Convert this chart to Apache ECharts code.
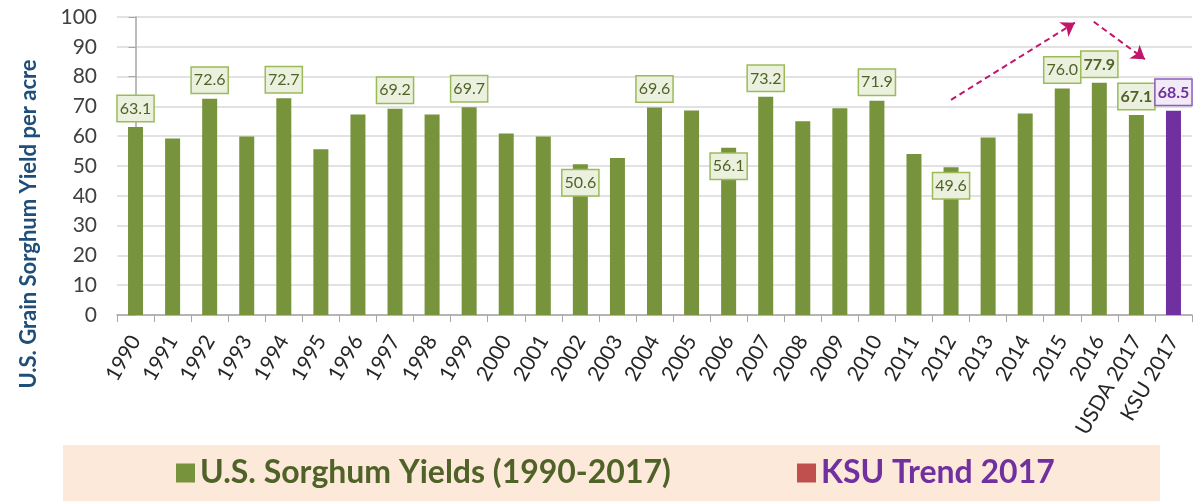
<!DOCTYPE html>
<html>
<head>
<meta charset="utf-8">
<script src="https://cdn.jsdelivr.net/npm/echarts@6/dist/echarts.min.js"></script>
<style>
  html, body { margin: 0; padding: 0; background: #fff; }
  #chart { width: 1199px; height: 501px; }
</style>
</head>
<body>
<div id="chart"></div>
<script>
// data
const categories = ['1990', '1991', '1992', '1993', '1994', '1995', '1996', '1997', '1998', '1999',
  '2000', '2001', '2002', '2003', '2004', '2005', '2006', '2007', '2008', '2009',
  '2010', '2011', '2012', '2013', '2014', '2015', '2016', 'USDA 2017', 'KSU 2017'];
const usYields = [63.1, 59.2, 72.6, 59.9, 72.7, 55.6, 67.3, 69.2, 67.3, 69.7,
  60.9, 59.9, 50.6, 52.7, 69.6, 68.6, 56.1, 73.2, 65.0, 69.4,
  71.9, 54.0, 49.6, 59.6, 67.6, 76.0, 77.9, 67.1, null];
const ksuTrend = [null, null, null, null, null, null, null, null, null, null,
  null, null, null, null, null, null, null, null, null, null,
  null, null, null, null, null, null, null, null, 68.5];
const labelledYears = ['1990', '1992', '1994', '1997', '1999', '2002', '2004', '2006',
  '2007', '2010', '2012', '2015', '2016', 'USDA 2017'];
const insideLabelYears = ['2002', '2006', '2012'];
const boldLabelYears = ['2016', 'USDA 2017'];
// trend arrows, [category index, yield]
const arrowUp = [[22.0, 72.2], [25.34, 98.1]];
const arrowDown = [[25.85, 98.4], [27.23, 85.8]];

const GREEN = '#77933c';
const PURPLE = '#7030a0';
const FONT = 'Lato';

const greenLabel = {
  show: true,
  distance: 6,
  formatter: p => p.value.toFixed(1),
  fontFamily: FONT,
  fontSize: 16,
  lineHeight: 19,
  color: '#4f6228',
  backgroundColor: '#ebf1de',
  borderColor: '#9bbb59',
  borderWidth: 1.5,
  padding: [3, 2, 3, 2]
};

const usData = usYields.map((v, i) => {
  const cat = categories[i];
  if (v == null) return '-';
  if (labelledYears.indexOf(cat) < 0) return v;
  return {
    value: v,
    label: Object.assign({}, greenLabel, {
      position: insideLabelYears.indexOf(cat) >= 0 ? 'insideTop' : 'top',
      fontWeight: boldLabelYears.indexOf(cat) >= 0 ? 'bold' : 'normal'
    })
  };
});

const ksuData = ksuTrend.map(v => v == null ? '-' : {
  value: v,
  label: Object.assign({}, greenLabel, {
    position: 'top',
    fontWeight: 'bold',
    color: PURPLE,
    backgroundColor: '#f2ebf7',
    borderColor: '#8d5bbd'
  })
});

const arrowLine = pts => ({
  silent: true,
  symbol: ['none', 'arrow'],
  symbolSize: 13,
  label: { show: false },
  lineStyle: { color: '#c0176a', type: [6, 4], width: 2 },
  data: [[{ coord: pts[0] }, { coord: pts[1] }]]
});

const chart = echarts.init(document.getElementById('chart'));
chart.setOption({
  animation: false,
  textStyle: { fontFamily: FONT },
  grid: { left: 117, right: 7, top: 17, bottom: 186 },
  graphic: [
    {
      type: 'rect',
      z: -10,
      shape: { x: 63, y: 445, width: 1097, height: 56 },
      style: { fill: '#fde9d9' }
    },
    {
      type: 'text',
      x: 29,
      y: 224,
      rotation: Math.PI / 2,
      style: {
        text: 'U.S. Grain Sorghum Yield per acre',
        fill: '#1f4e79',
        font: 'bold 22px Lato',
        align: 'center',
        verticalAlign: 'middle'
      }
    }
  ],
  legend: [
    {
      left: 176, top: 455, padding: 0,
      icon: 'rect', itemWidth: 19, itemHeight: 19,
      data: [{ name: 'U.S. Sorghum Yields (1990-2017)' }],
      textStyle: { fontFamily: FONT, fontSize: 32, fontWeight: 'bold', color: '#4f6228', lineHeight: 36 }
    },
    {
      left: 797, top: 455, padding: 0,
      icon: 'rect', itemWidth: 19, itemHeight: 19,
      data: [{ name: 'KSU Trend 2017', itemStyle: { color: '#c0504d' } }],
      textStyle: { fontFamily: FONT, fontSize: 32, fontWeight: 'bold', color: PURPLE, lineHeight: 36 }
    }
  ],
  xAxis: [
    {
      type: 'category',
      data: categories,
      axisLine: { lineStyle: { color: '#a6a6a6', width: 1.5 } },
      axisTick: { show: true, length: 7, lineStyle: { color: '#a6a6a6' } },
      axisLabel: {
        interval: 0, rotate: 60, margin: 22,
        fontFamily: FONT, fontSize: 21, color: '#262626'
      }
    },
    { type: 'value', show: false, min: -0.5, max: 28.5 }
  ],
  yAxis: {
    type: 'value',
    min: 0, max: 100, interval: 10,
    axisLine: { show: true, lineStyle: { color: '#a6a6a6', width: 1.5 } },
    axisTick: { show: true, length: 7, lineStyle: { color: '#a6a6a6' } },
    axisLabel: { fontFamily: FONT, fontSize: 21, color: '#404040', margin: 20 },
    splitLine: { lineStyle: { color: '#d9d9d9', width: 1.5 } }
  },
  series: [
    {
      name: 'U.S. Sorghum Yields (1990-2017)',
      type: 'bar',
      barWidth: 15,
      barGap: '-100%',
      itemStyle: { color: GREEN },
      data: usData
    },
    {
      name: 'KSU Trend 2017',
      type: 'bar',
      barWidth: 15,
      barGap: '-100%',
      itemStyle: { color: PURPLE },
      data: ksuData
    },
    {
      type: 'line',
      xAxisIndex: 1,
      data: [],
      markLine: arrowLine(arrowUp)
    },
    {
      type: 'line',
      xAxisIndex: 1,
      data: [],
      markLine: arrowLine(arrowDown)
    }
  ]
});
</script>
</body>
</html>
